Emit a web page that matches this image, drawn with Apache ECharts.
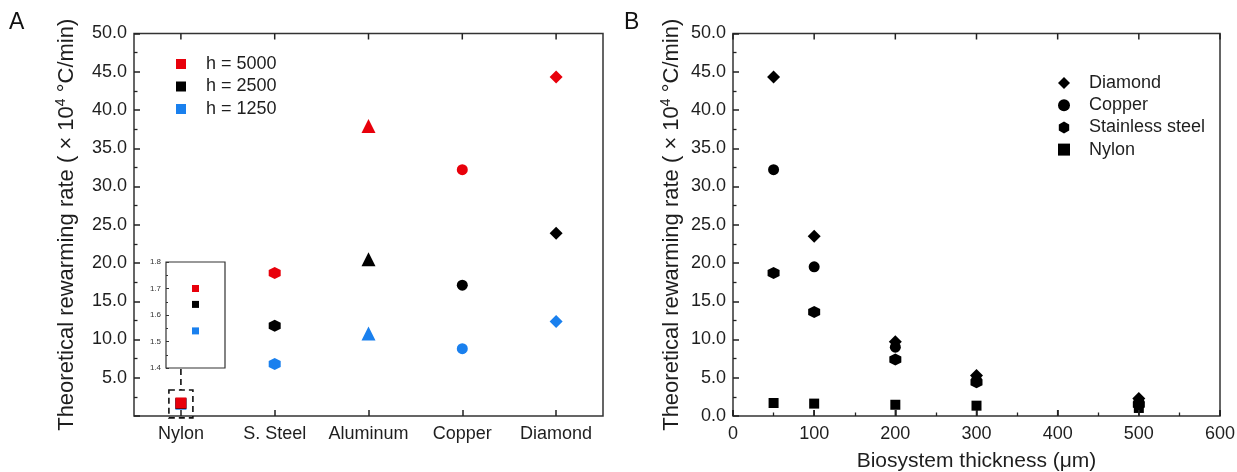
<!DOCTYPE html>
<html>
<head>
<meta charset="utf-8">
<script src="https://cdn.jsdelivr.net/npm/echarts@6/dist/echarts.min.js"></script>
<style>
html,body{margin:0;padding:0;background:#fff;}
#c{width:1237px;height:472px;}
</style>
</head>
<body>
<div id="c"></div>
<script>
// ---- Data ----
const materialsA = ['Nylon', 'S. Steel', 'Aluminum', 'Copper', 'Diamond'];
const h5000 = [1.70, 18.7, 37.9, 32.2, 44.3];
const h2500 = [1.64, 11.8, 20.5, 17.1, 23.9];
const h1250 = [1.54, 6.8, 10.8, 8.8, 12.35];
const legendA = ['h = 5000', 'h = 2500', 'h = 1250'];

const thickness = [50, 100, 200, 300, 500];
const diamondB = [44.3, 23.5, 9.7, 5.3, 2.3];
const copperB = [32.2, 19.5, 9.0, 4.7, 1.9];
const steelB = [18.7, 13.6, 7.4, 4.4, 1.5];
const nylonB = [1.70, 1.62, 1.47, 1.35, 1.05];
const legendB = ['Diamond', 'Copper', 'Stainless steel', 'Nylon'];

const yTicksMain = { min: 0, max: 50, interval: 5 };
const yTicksInset = { min: 1.4, max: 1.8, interval: 0.1 };
const xTicksB = { min: 0, max: 600, interval: 100 };
const xTickValuesB = [0, 100, 200, 300, 400, 500, 600];

// ---- Styles ----
const RED = '#e8000b', BLACK = '#000000', BLUE = '#1a80ee';
const FONT = "'Liberation Sans', Arial, sans-serif";
const TXT = '#1e1e1e';
const HEX = 'path://M0,-1L0.866,-0.5L0.866,0.5L0,1L-0.866,0.5L-0.866,-0.5Z';
const DIA = 'path://M0,-1L1,0L0,1L-1,0Z';
const SQ = 'path://M0,0L10,0L10,10L0,10Z';
const symA = ['rect', HEX, 'triangle', 'circle', 'diamond'];
const sizeA = [11, 12, 14, 11, 13];

const chart = echarts.init(document.getElementById('c'), null, { renderer: 'canvas' });

const tickIn = (len) => ({ show: true, inside: true, length: len, lineStyle: { color: '#222', width: 1.5 } });
const noLine = { show: false, onZero: false };
const yName = {
  rich: {
    a: { fontSize: 22, fontFamily: FONT, color: TXT, verticalAlign: 'bottom' },
    s: { fontSize: 14, fontFamily: FONT, color: TXT, verticalAlign: 'bottom', padding: [0, 0, 10, 0] }
  }
};
const yNameText = '{a|Theoretical rewarming rate ( \u00d7 10}{s|4}{a| \u00b0C/min)}';

function seriesA(name, vals, color, z) {
  return {
    name, type: 'scatter', xAxisIndex: 0, yAxisIndex: 0, z,
    data: vals.map((v, i) => [materialsA[i], v]),
    symbol: (v, p) => symA[p.dataIndex],
    symbolSize: (v, p) => sizeA[p.dataIndex],
    itemStyle: { color, opacity: 1 }
  };
}
function seriesInset(name, vals, color, z) {
  return {
    name, type: 'scatter', xAxisIndex: 4, yAxisIndex: 3, z,
    data: [[materialsA[0], vals[0]]],
    symbol: 'rect', symbolSize: 7,
    itemStyle: { color, opacity: 1 }
  };
}
function seriesB(name, vals, symbol, size) {
  return {
    name, type: 'scatter', xAxisIndex: 2, yAxisIndex: 2,
    data: vals.map((v, i) => [thickness[i], v]),
    symbol, symbolSize: size,
    itemStyle: { color: BLACK, opacity: 1 }
  };
}
// Tick marks drawn at axis tick values (dir = +1 downward from top edge, -1 upward from bottom edge)
function tickSeries(xIdx, yIdx, xs, yEdge, dir) {
  return {
    type: 'custom', xAxisIndex: xIdx, yAxisIndex: yIdx, silent: true, clip: false, z: 20,
    data: xs.map(x => [x, yEdge]),
    renderItem: (params, api) => {
      const p = api.coord([api.value(0), api.value(1)]);
      return { type: 'line', shape: { x1: p[0], y1: p[1], x2: p[0], y2: p[1] + dir * 6 },
        style: { stroke: '#222', lineWidth: 1.5 } };
    }
  };
}

const gridBase = { show: true, borderColor: '#333', containLabel: false, outerBoundsMode: 'none' };
const option = {
  animation: false,
  backgroundColor: '#fff',
  textStyle: { fontFamily: FONT },
  tooltip: { show: false },
  grid: [
    Object.assign({ left: 134, top: 33.5, width: 469, height: 382.5, borderWidth: 1.5, backgroundColor: 'transparent' }, gridBase),
    Object.assign({ left: 733, top: 33.5, width: 487, height: 382.5, borderWidth: 1.5, backgroundColor: 'transparent' }, gridBase),
    Object.assign({ left: 166, top: 262, width: 59, height: 106, borderWidth: 1.2, backgroundColor: '#fff' }, gridBase)
  ],
  xAxis: [
    { gridIndex: 0, type: 'category', data: materialsA, boundaryGap: true, position: 'bottom',
      axisLine: noLine, axisTick: Object.assign(tickIn(6), { alignWithLabel: true, interval: 0 }),
      axisLabel: { fontSize: 18, color: TXT, fontFamily: FONT, margin: 9, interval: 0 }, splitLine: { show: false } },
    { gridIndex: 0, type: 'category', data: materialsA, boundaryGap: true, position: 'top',
      axisLine: noLine, axisTick: { show: false }, axisLabel: { show: false }, splitLine: { show: false } },
    { gridIndex: 1, type: 'value', min: xTicksB.min, max: xTicksB.max, interval: xTicksB.interval, position: 'bottom',
      axisLine: noLine, axisTick: tickIn(6),
      minorTick: { show: true, splitNumber: 2, length: 3.5, lineStyle: { color: '#222', width: 1.3 } },
      axisLabel: { fontSize: 18, color: TXT, fontFamily: FONT, margin: 9 }, splitLine: { show: false },
      name: 'Biosystem thickness (\u03bcm)', nameLocation: 'middle', nameGap: 35,
      nameTextStyle: { fontSize: 21, color: TXT, fontFamily: FONT } },
    { gridIndex: 1, type: 'value', min: xTicksB.min, max: xTicksB.max, interval: xTicksB.interval, position: 'top',
      axisLine: noLine, axisTick: { show: false }, axisLabel: { show: false }, splitLine: { show: false } },
    { gridIndex: 2, type: 'category', data: [materialsA[0]], boundaryGap: true,
      axisLine: noLine, axisTick: { show: false }, axisLabel: { show: false }, splitLine: { show: false } }
  ],
  yAxis: [
    { gridIndex: 0, type: 'value', min: yTicksMain.min, max: yTicksMain.max, interval: yTicksMain.interval,
      axisLine: noLine, axisTick: tickIn(6),
      minorTick: { show: true, splitNumber: 2, length: 3.5, lineStyle: { color: '#222', width: 1.3 } },
      axisLabel: { fontSize: 18, color: TXT, fontFamily: FONT, margin: 7, formatter: v => v === 0 ? '' : v.toFixed(1) },
      splitLine: { show: false },
      name: yNameText, nameLocation: 'middle', nameGap: 56, nameTextStyle: yName },
    { gridIndex: 0, type: 'value', min: yTicksMain.min, max: yTicksMain.max, interval: yTicksMain.interval, position: 'right',
      axisLine: noLine, axisTick: { show: false }, axisLabel: { show: false }, splitLine: { show: false } },
    { gridIndex: 1, type: 'value', min: yTicksMain.min, max: yTicksMain.max, interval: yTicksMain.interval,
      axisLine: noLine, axisTick: tickIn(6),
      minorTick: { show: true, splitNumber: 2, length: 3.5, lineStyle: { color: '#222', width: 1.3 } },
      axisLabel: { fontSize: 18, color: TXT, fontFamily: FONT, margin: 7, formatter: v => v.toFixed(1) },
      splitLine: { show: false },
      name: yNameText, nameLocation: 'middle', nameGap: 50, nameTextStyle: yName },
    { gridIndex: 2, type: 'value', min: yTicksInset.min, max: yTicksInset.max, interval: yTicksInset.interval,
      axisLine: noLine, axisTick: { show: true, inside: true, length: 3, lineStyle: { color: '#333', width: 1 } },
      minorTick: { show: true, splitNumber: 2, length: 2, lineStyle: { color: '#333', width: 1 } },
      axisLabel: { fontSize: 8, color: '#333', fontFamily: FONT, margin: 5, formatter: v => v.toFixed(1) },
      splitLine: { show: false } }
  ],
  legend: [
    { orient: 'vertical', left: 171, top: 50, itemWidth: 40, itemHeight: 10, itemGap: 4.5,
      symbolKeepAspect: true,
      textStyle: { fontSize: 18, color: TXT, fontFamily: FONT, lineHeight: 18 },
      data: [
        { name: legendA[0], icon: SQ, itemStyle: { color: RED } },
        { name: legendA[1], icon: SQ, itemStyle: { color: BLACK } },
        { name: legendA[2], icon: SQ, itemStyle: { color: BLUE } }
      ] },
    { orient: 'vertical', left: 1053, top: 69, itemWidth: 40, itemHeight: 12, itemGap: 4.2,
      symbolKeepAspect: true,
      textStyle: { fontSize: 18, color: TXT, fontFamily: FONT, lineHeight: 18 },
      data: [
        { name: legendB[0], icon: DIA },
        { name: legendB[1], icon: 'path://M0,-1A1,1,0,1,1,0,1A1,1,0,1,1,0,-1Z' },
        { name: legendB[2], icon: HEX },
        { name: legendB[3], icon: 'path://M0,0L9,0L9,9L0,9Z' }
      ] }
  ],
  series: [
    seriesA(legendA[2], h1250, BLUE, 2),
    seriesA(legendA[1], h2500, BLACK, 3),
    seriesA(legendA[0], h5000, RED, 4),
    seriesInset(legendA[2], h1250, BLUE, 5),
    seriesInset(legendA[1], h2500, BLACK, 5),
    seriesInset(legendA[0], h5000, RED, 5),
    seriesB(legendB[3], nylonB, 'rect', 10),
    seriesB(legendB[2], steelB, HEX, 12),
    seriesB(legendB[1], copperB, 'circle', 11),
    seriesB(legendB[0], diamondB, 'diamond', 13),
    tickSeries(0, 0, materialsA.map((c, i) => i), yTicksMain.max, 1),
    tickSeries(2, 2, xTickValuesB, yTicksMain.max, 1),
    tickSeries(2, 2, xTickValuesB, yTicksMain.min, -1)
  ]
};
chart.setOption(option);

// Annotations: panel letters and the dashed zoom marker linking Nylon to the inset
const pTop = chart.convertToPixel({ xAxisIndex: 0, yAxisIndex: 0 }, [0, 3.4]);
const pBot = chart.convertToPixel({ xAxisIndex: 0, yAxisIndex: 0 }, [0, -0.25]);
const inBot = chart.convertToPixel({ xAxisIndex: 4, yAxisIndex: 3 }, [0, yTicksInset.min]);
chart.setOption({
  graphic: [
    { type: 'text', left: 9, top: 11, style: { text: 'A', fontSize: 23, fontFamily: FONT, fill: '#111' } },
    { type: 'text', left: 624, top: 11, style: { text: 'B', fontSize: 23, fontFamily: FONT, fill: '#111' } },
    { type: 'rect', z: 10, shape: { x: pTop[0] - 12, y: pTop[1], width: 24, height: pBot[1] - pTop[1] },
      style: { fill: 'none', stroke: '#111', lineWidth: 1.6, lineDash: [6, 4] } },
    { type: 'line', z: 10, shape: { x1: pTop[0], y1: inBot[1] + 1, x2: pTop[0], y2: pTop[1] },
      style: { stroke: '#111', lineWidth: 1.6, lineDash: [6, 4] } }
  ]
});
</script>
</body>
</html>
